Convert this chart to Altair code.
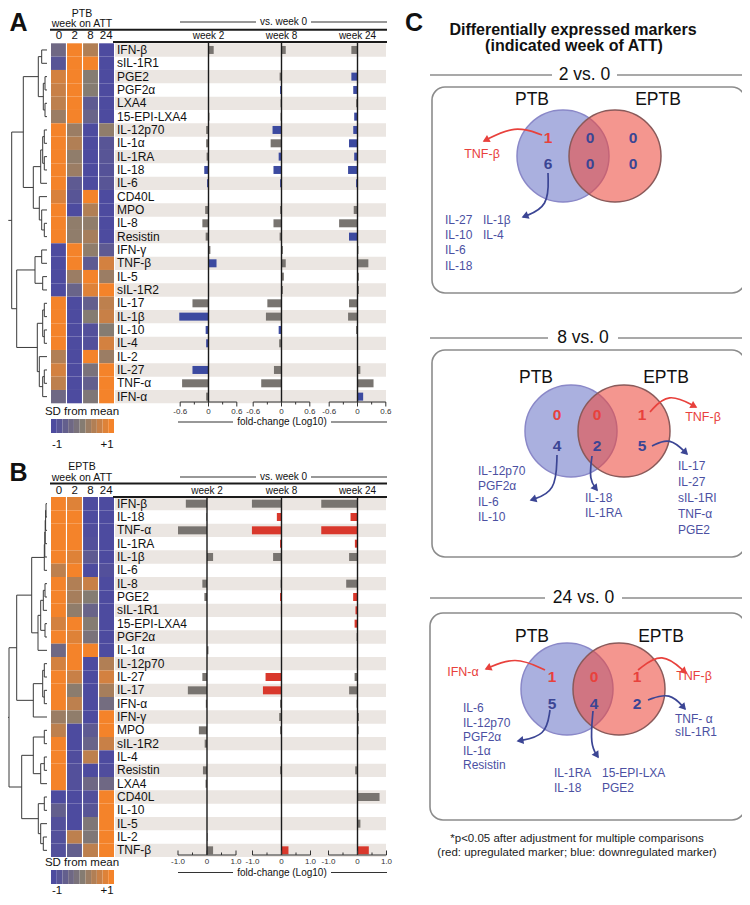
import math
import altair as alt
import pandas as pd

FONT = "Liberation Sans"
INK = "#111111"
M = 8
W, H = 734, 889
ROW = 360 / 27

# ---------------- data ----------------
weeks_heat = ["0", "2", "8", "24"]
weeks_cmp = ["2", "8", "24"]

markers_A = ["IFN-β", "sIL-1R1", "PGE2", "PGF2α", "LXA4", "15-EPI-LXA4", "IL-12p70", "IL-1α",
             "IL-1RA", "IL-18", "IL-6", "CD40L", "MPO", "IL-8", "Resistin", "IFN-γ", "TNF-β",
             "IL-5", "sIL-1R2", "IL-17", "IL-1β", "IL-10", "IL-4", "IL-2", "IL-27", "TNF-α", "IFN-α"]
heat_A_w0 = [-0.4, -0.8, 0.7, 0.6, 0.5, 0.2, 1, 1, 1, 1, 1, 0.75, 1, 1, 1, -1, -1, -1, -1, 1, 1, 1, 1, 0.4, 0.7, 0.5, -0.4]
heat_A_w2 = [1, 1, 1, 1, 1, 1, 0.2, 0.4, 0.1, 0.2, -0.7, -0.8, -1, 0.1, 0.1, 1, 1, 0.2, -0.5, -1, -1, -1, -1, -1, -1, -1, -1]
heat_A_w8 = [0.4, 1, 0, 0, -0.7, -0.5, -1, -1, -1, -1, -1, 1, 0.4, 0.1, 0.3, 0.1, -0.7, 1, 0.8, -0.6, 0, -0.9, -0.9, 1, -0.2, -0.6, -0.1]
heat_A_w24 = [-1, -1, -1, -1, -1, -1, 0.1, -0.8, -0.8, -0.85, -0.8, -1, -1, -1, -1, -0.7, 0.7, 0.2, 1, 0.5, 0.6, 0, 0.7, 0.2, 1, 1, 1]

fc_A_w2 = [0.11, 0, 0, 0, 0, 0.02, -0.05, -0.05, -0.04, -0.09, -0.03, 0, -0.07, -0.13, -0.06, 0.04, 0.17,
           0.01, 0, -0.34, -0.62, -0.06, -0.05, 0.005, -0.34, -0.56, -0.05]
fc_A_w8 = [0.09, 0.01, -0.04, -0.03, -0.02, -0.02, -0.19, -0.23, -0.06, -0.17, -0.03, 0, -0.03, -0.17, -0.04,
           0.03, 0.09, 0.05, 0.03, -0.30, -0.33, -0.06, -0.05, 0, -0.16, -0.43, 0]
fc_A_w24 = [-0.13, 0, -0.13, -0.09, -0.03, -0.07, -0.09, -0.18, -0.07, -0.20, -0.03, 0, -0.08, -0.39, -0.18,
            0.02, 0.23, 0.03, 0.03, -0.18, -0.20, -0.03, 0, 0, 0.06, 0.34, 0.12]
sig_A_w2 = ["TNF-β", "IL-27", "IL-10", "IL-6", "IL-18", "IL-1β", "IL-4"]
sig_A_w8 = ["IL-12p70", "PGF2α", "IL-6", "IL-10", "IL-18", "IL-1RA"]
sig_A_w24 = ["IFN-α", "IL-6", "IL-12p70", "PGF2α", "IL-1α", "Resistin", "IL-1RA", "IL-18", "15-EPI-LXA4", "PGE2"]

markers_B = ["IFN-β", "IL-18", "TNF-α", "IL-1RA", "IL-1β", "IL-6", "IL-8", "PGE2", "sIL-1R1", "15-EPI-LXA4",
             "PGF2α", "IL-1α", "IL-12p70", "IL-27", "IL-17", "IFN-α", "IFN-γ", "MPO", "sIL-1R2", "IL-4",
             "Resistin", "LXA4", "CD40L", "IL-10", "IL-5", "IL-2", "TNF-β"]
heat_B_w0 = [1, 1, 1, 1, 1, 0.5, 1, 1, 1, 0.7, 1, -0.4, 0.7, 1, 1, 1, 0.2, 0.5, 1, 1, 1, 1, -1, -0.6, -0.9, -0.9, -0.9]
heat_B_w2 = [0.8, 1, 1, 1, 0.8, 1, 0.4, 0.3, 0.1, 1, 0.8, 1, 1, 0.6, 0.05, 0.5, 0.1, -1, -1, -0.95, -0.9, -0.9, -1, -1, -1, 0.5, -0.6]
heat_B_w8 = [-1, -1, -0.95, -0.9, -0.7, -1, 0.6, 0, -0.5, 0, -0.2, 1, -1, -1, -1, -1, -1, -0.7, -0.5, 0.5, -1, -0.4, -0.9, -0.8, -0.1, -0.1, 0.5]
heat_B_w24 = [-1, -1, -1, -1, -1, -0.9, -1, -1, -1, -1, -1, -1, 0.4, 0.7, 0.3, -0.3, 1, 1, 0.6, -1, -0.95, -0.4, 1, 1, 1, 1, 1]

fc_B_w2 = [-0.73, -0.02, -1.0, 0, 0.21, 0, -0.16, -0.09, 0, 0, 0, 0.05, 0, -0.16, -0.66, -0.04, 0, -0.28,
           -0.08, 0, -0.14, -0.05, 0, 0, 0, 0.02, 0.21]
fc_B_w8 = [-1.02, -0.16, -1.02, -0.05, -0.29, 0, -0.03, -0.05, -0.02, 0, 0, 0, 0, -0.55, -0.64, -0.05, -0.08,
           -0.05, 0, 0, -0.05, 0, 0, 0, 0, 0, 0.24]
fc_B_w24 = [-1.25, -0.24, -1.25, -0.09, -0.29, 0, -0.39, -0.15, -0.07, -0.10, -0.03, 0, -0.02, -0.10, -0.29,
            -0.03, 0.05, 0.04, 0, 0, -0.08, 0, 0.76, 0, 0.10, 0, 0.39]
sig_B_w2 = []
sig_B_w8 = ["TNF-β", "IL-18", "IL-1RA", "IL-17", "IL-27", "sIL-1R1", "TNF-α", "PGE2"]
sig_B_w24 = ["TNF-β", "TNF-α", "sIL-1R1", "IL-1RA", "IL-18", "15-EPI-LXA4", "PGE2"]

# dendrograms: (merge height, left, right)
tree_A = (35.3,
          (23.7,
           (8.7, (5.3, "IFN-β", "sIL-1R1"), (3.7, (2, "PGE2", "PGF2α"), (2, "LXA4", "15-EPI-LXA4"))),
           (13.7, (6.3, (4.3, (2.7, "IL-12p70", "IL-1α"), (2.7, "IL-1RA", "IL-18")), "IL-6"),
            (7.7, "CD40L", (5.3, "MPO", (2.7, "IL-8", "Resistin"))))),
          (30.3,
           (12, (5.3, "IFN-γ", "TNF-β"), (4.3, "IL-5", "sIL-1R2")),
           (9.7, (4.3, (2.7, "IL-17", "IL-1β"), (2.7, "IL-10", "IL-4")),
            (7.7, "IL-2", (4.3, (2.7, "IL-27", "TNF-α"), "IFN-α")))))
stub_A = 38.7
tree_B = (38,
          (30.3,
           (15.3,
            (2.7, (2.2, (1.8, (1.4, (1, "IFN-β", "IL-18"), "TNF-α"), "IL-1RA"), "IL-1β"), "IL-6"),
            (9, (6.3, (3.7, (2, "IL-8", "PGE2"), "sIL-1R1"), (2, "15-EPI-LXA4", "PGF2α")), "IL-1α")),
           (13.7, (4.3, (2.7, "IL-12p70", "IL-27"), (2.7, "IL-17", "IFN-α")), "IFN-γ")),
          (25.3,
           (13.7, (2.7, "MPO", "sIL-1R2"), (6.3, (2.7, "IL-4", "Resistin"), "LXA4")),
           (8.7, (2.7, "CD40L", "IL-10"), (6.3, "IL-5", (3.7, "IL-2", "TNF-β")))))
stub_B = 39

legend_steps = [-1, -0.8, -0.6, -0.4, -0.2, 0, 0.2, 0.4, 0.6, 0.8, 1]
ticks_A = [-0.6, -0.3, 0, 0.3, 0.6]
ticks_B = [-1.0, -0.5, 0, 0.5, 1.0]
ticklab_A = ["-0.6", "0", "0.6"]
ticklab_B = ["-1.0", "0", "1.0"]

# Venn counts: [PTB only, both, EPTB only]
venn_titles = ["2 vs. 0", "8 vs. 0", "24 vs. 0"]
venn_up = [[1, 0, 0], [0, 0, 1], [1, 0, 1]]
venn_down = [[6, 0, 0], [4, 2, 5], [5, 4, 2]]

# ---------------- styles ----------------
HEAT = alt.Scale(domain=[-1, 0, 1], range=["#4d4b9f", "#857c72", "#f4832a"], interpolate="rgb")
BAND = "#ebe6e2"
GREY_BAR = "#787470"
BLUE_SIG = "#3c4aa0"
RED_SIG = "#d9382c"
RED_T = "#e8413c"
BLUE_T = "#4b50a2"
BLUE_N = "#3b4594"
PXS = alt.Scale(domain=[M, M + W], range=[0, W])
PYS = alt.Scale(domain=[M, M + H], range=[0, H])

L = []


def T(rows, size, color=INK, weight="normal", align="center", baseline="middle"):
    df = pd.DataFrame(rows, columns=["x", "y", "t"])
    return alt.Chart(df).mark_text(font=FONT, fontSize=size, color=color, fontWeight=weight,
                                   align=align, baseline=baseline).encode(
        x=alt.X("x:Q", scale=PXS, axis=None), y=alt.Y("y:Q", scale=PYS, axis=None), text="t:N")


def R(rows, color="#222222", width=1.0):
    df = pd.DataFrame(rows, columns=["x", "x2", "y", "y2"])
    return alt.Chart(df).mark_rule(color=color, strokeWidth=width).encode(
        x=alt.X("x:Q", scale=PXS, axis=None), x2="x2:Q",
        y=alt.Y("y:Q", scale=PYS, axis=None), y2="y2:Q")


def dendro(tree, markers):
    segs = []

    def walk(node):
        if isinstance(node, str):
            return float(markers.index(node)), 0.0
        h, a, b = node
        ya, ha = walk(a)
        yb, hb = walk(b)
        segs.append((ha, h, ya, ya))
        segs.append((hb, h, yb, yb))
        segs.append((h, h, ya, yb))
        return (ya + yb) / 2, h

    y, h = walk(tree)
    return segs, y, h


def panel(markers, heat, bars, sig, tree, stub, g, group_label, sig_color, lim, ticks, ticklabs, letter):
    n = len(markers)
    top = g["top"]
    bottom = top + n * ROW
    ys = alt.Scale(domain=markers, range=[top - M, bottom - M], paddingInner=0, paddingOuter=0)

    # alternating row bands
    L.append(alt.Chart(pd.DataFrame({"m": markers[::2]})).mark_rect(color=BAND).encode(
        y=alt.Y("m:N", scale=ys, axis=None), x=alt.value(115 - M), x2=alt.value(386 - M)))

    # heatmap
    rows = [{"m": m, "w": w, "v": v} for w in weeks_heat for m, v in zip(markers, heat[w])]
    xs_h = alt.Scale(domain=weeks_heat, range=[51 - M, 114 - M], paddingInner=0.07, paddingOuter=0)
    L.append(alt.Chart(pd.DataFrame(rows)).mark_rect().encode(
        x=alt.X("w:N", scale=xs_h, axis=None), y=alt.Y("m:N", scale=ys, axis=None),
        color=alt.Color("v:Q", scale=HEAT, legend=None)))
    L.append(alt.Chart(pd.DataFrame({"w": weeks_heat})).mark_text(
        font=FONT, fontSize=11.5, color=INK, baseline="middle").encode(
        x=alt.X("w:N", scale=xs_h, axis=None), y=alt.value(g["colhead_y"] - M), text="w:N"))

    # row labels
    L.append(alt.Chart(pd.DataFrame({"m": markers})).mark_text(
        font=FONT, fontSize=12, color=INK, align="left", baseline="middle").encode(
        y=alt.Y("m:N", scale=ys, axis=None), x=alt.value(117 - M), text="m:N"))

    # bar panels
    for k, w in enumerate(weeks_cmp):
        z = g["zeros"][k]
        hw = g["hw"]
        xs = alt.Scale(domain=[-lim, lim], range=[z - hw - M, z + hw - M])
        df = pd.DataFrame({"m": markers, "v": bars[w],
                           "s": ["sig" if m in sig[w] else "ns" for m in markers]})
        L.append(alt.Chart(df).mark_bar(size=8).encode(
            x=alt.X("v:Q", scale=xs, axis=None), y=alt.Y("m:N", scale=ys, axis=None),
            color=alt.Color("s:N", scale=alt.Scale(domain=["ns", "sig"], range=[GREY_BAR, sig_color]),
                            legend=None)))
        L.append(alt.Chart(pd.DataFrame({"v": [0]})).mark_rule(color="#1a1a1a", strokeWidth=1.4).encode(
            x=alt.X("v:Q", scale=xs, axis=None),
            y=alt.value(g["line2_y"] - M), y2=alt.value(g["axis_y"] - M)))
        L.append(alt.Chart(pd.DataFrame({"a": [-lim], "b": [lim]})).mark_rule(color="#333333", strokeWidth=1.2).encode(
            x=alt.X("a:Q", scale=xs, axis=None), x2="b:Q", y=alt.value(g["axis_y"] - M)))
        tk = pd.DataFrame({"v": ticks})
        major = tk[tk["v"].isin([ticks[0], 0, ticks[-1]])]
        minor = tk[~tk["v"].isin([ticks[0], 0, ticks[-1]])]
        for part, ln in ((major, 4.5), (minor, 2.5)):
            L.append(alt.Chart(part).mark_rule(color="#333333", strokeWidth=1).encode(
                x=alt.X("v:Q", scale=xs, axis=None),
                y=alt.value(g["axis_y"] - M), y2=alt.value(g["axis_y"] - M + g["tick_dir"] * ln)))
        lab = pd.DataFrame({"v": [ticks[0], 0, ticks[-1]], "t": ticklabs})
        L.append(alt.Chart(lab).mark_text(font=FONT, fontSize=8, color="#333333", baseline="middle").encode(
            x=alt.X("v:Q", scale=xs, axis=None), y=alt.value(g["ticklab_y"] - M), text="t:N"))

    # dendrogram
    segs, ry, rh = dendro(tree, markers)
    segs.append((rh, stub, ry, ry))
    dd = pd.DataFrame(segs, columns=["h1", "h2", "r1", "r2"])
    xs_d = alt.Scale(domain=[0, 40], range=[47 - M, 7 - M])
    ys_d = alt.Scale(domain=[-0.5, n - 0.5], range=[top - M, bottom - M])
    L.append(alt.Chart(dd).mark_rule(color="#3a3a3a", strokeWidth=1).encode(
        x=alt.X("h1:Q", scale=xs_d, axis=None), x2="h2:Q",
        y=alt.Y("r1:Q", scale=ys_d, axis=None), y2="r2:Q"))

    # colour legend
    xs_c = alt.Scale(domain=legend_steps, range=[51 - M, 114 - M], paddingInner=0, paddingOuter=0)
    L.append(alt.Chart(pd.DataFrame({"s": legend_steps})).mark_rect().encode(
        x=alt.X("s:O", scale=xs_c, axis=None),
        y=alt.value(g["cb_y0"] - M), y2=alt.value(g["cb_y1"] - M),
        color=alt.Color("s:Q", scale=HEAT, legend=None)))

    # header texts and lines
    L.append(T([(82, g["grp_y"], group_label), (82, g["week_on_y"], "week on ATT")], 10.5))
    L.append(T([(82, g["sd_y"], "SD from mean"), (57, g["pm_y"], "-1"), (107, g["pm_y"], "+1")], 11.5))
    L.append(T([(283.5, g["vs_y"], "vs. week 0")] +
               [(g["zeros"][k], g["wk_y"], "week " + w) for k, w in enumerate(weeks_cmp)] +
               [(282, g["fc_y"], "fold-change (Log10)")], 10))
    L.append(T([(18.5, g["letter_y"], letter)], 25, weight="bold"))
    L.append(R([(50, 387, g["line1_y"], g["line1_y"]), (113, 387, g["line2_y"], g["line2_y"])], "#1a1a1a", 2))
    L.append(R([(180, 256, g["vs_y"], g["vs_y"]), (311, 387, g["vs_y"], g["vs_y"]),
                (178, 233, g["fc_y"], g["fc_y"]), (331, 387, g["fc_y"], g["fc_y"])], "#333333", 1.2))


geomA = dict(top=43.3, letter_y=23, grp_y=13.5, week_on_y=24, line1_y=29.8, vs_y=22, wk_y=36, line2_y=42,
             colhead_y=36, axis_y=402, tick_dir=1, ticklab_y=411.5, fc_y=422, sd_y=412, cb_y0=419, cb_y1=433,
             pm_y=445, zeros=[208.5, 281.5, 357.5], hw=28.3)
geomB = dict(top=497, letter_y=473, grp_y=467, week_on_y=477.5, line1_y=483.5, vs_y=477, wk_y=491, line2_y=497,
             colhead_y=490.5, axis_y=855, tick_dir=-1, ticklab_y=862, fc_y=872.5, sd_y=863, cb_y0=870, cb_y1=884,
             pm_y=891, zeros=[207, 281.5, 357.5], hw=29)

panel(markers_A, {"0": heat_A_w0, "2": heat_A_w2, "8": heat_A_w8, "24": heat_A_w24},
      {"2": fc_A_w2, "8": fc_A_w8, "24": fc_A_w24}, {"2": sig_A_w2, "8": sig_A_w8, "24": sig_A_w24},
      tree_A, stub_A, geomA, "PTB", BLUE_SIG, 0.6, ticks_A, ticklab_A, "A")
panel(markers_B, {"0": heat_B_w0, "2": heat_B_w2, "8": heat_B_w8, "24": heat_B_w24},
      {"2": fc_B_w2, "8": fc_B_w8, "24": fc_B_w24}, {"2": sig_B_w2, "8": sig_B_w8, "24": sig_B_w24},
      tree_B, stub_B, geomB, "EPTB", RED_SIG, 1.0, ticks_B, ticklab_B, "B")

# ---------------- panel C ----------------
L.append(T([(414, 23, "C")], 25, weight="bold"))
L.append(T([(573, 30, "Differentially expressed markers"), (574, 46, "(indicated week of ATT)")],
           16, weight="bold"))

boxes = [
    dict(head_y=75, lines=[(430, 552), (617, 745)], rect=(432, 87, 745, 293), ptb=(563, 156), eptb=(615, 156),
         lab_y=100, lab_x=(532, 658), up_y=138, dn_y=164, cols_x=[548, 590, 633],
         up_col=[RED_T, BLUE_N, BLUE_N]),
    dict(head_y=338, lines=[(430, 548), (618, 745)], rect=(432, 350, 745, 557), ptb=(571, 431), eptb=(624, 431),
         lab_y=378, lab_x=(536, 666), up_y=415, dn_y=446, cols_x=[557, 597, 642],
         up_col=[RED_T, RED_T, RED_T]),
    dict(head_y=598, lines=[(430, 545), (622, 745)], rect=(430, 613, 745, 820), ptb=(567, 689), eptb=(619, 689),
         lab_y=637, lab_x=(532, 661), up_y=677, dn_y=704, cols_x=[552, 594, 637],
         up_col=[RED_T, RED_T, RED_T]),
]

for b, title, up, dn in zip(boxes, venn_titles, venn_up, venn_down):
    L.append(T([((b["lines"][0][1] + b["lines"][1][0]) / 2, b["head_y"], title)], 17.5))
    L.append(R([(b["lines"][0][0], b["lines"][0][1], b["head_y"], b["head_y"]),
                (b["lines"][1][0], b["lines"][1][1], b["head_y"], b["head_y"])], "#555555", 1.2))
    x0, y0, x1, y1 = b["rect"]
    L.append(alt.Chart(pd.DataFrame({"x": [x0], "x2": [x1], "y": [y0], "y2": [y1]})).mark_rect(
        fillOpacity=0, stroke="#8c8c8c", strokeWidth=1.6, cornerRadius=13).encode(
        x=alt.X("x:Q", scale=PXS, axis=None), x2="x2:Q", y=alt.Y("y:Q", scale=PYS, axis=None), y2="y2:Q"))
    L.append(T([(b["lab_x"][0], b["lab_y"], "PTB"), (b["lab_x"][1], b["lab_y"], "EPTB")], 17.5))
    L.append(alt.Chart(pd.DataFrame({"x": [b["ptb"][0]], "y": [b["ptb"][1]]})).mark_circle(
        size=92 * 92, color="#6470c4", fillOpacity=0.55, stroke="#8a88c8", strokeWidth=1.5, strokeOpacity=1).encode(
        x=alt.X("x:Q", scale=PXS, axis=None), y=alt.Y("y:Q", scale=PYS, axis=None)))
    L.append(alt.Chart(pd.DataFrame({"x": [b["eptb"][0]], "y": [b["eptb"][1]]})).mark_circle(
        size=92 * 92, color="#ec4a3e", fillOpacity=0.58, stroke="#8a5a5a", strokeWidth=1.5, strokeOpacity=1).encode(
        x=alt.X("x:Q", scale=PXS, axis=None), y=alt.Y("y:Q", scale=PYS, axis=None)))
    for cx, v, c in zip(b["cols_x"], up, b["up_col"]):
        L.append(T([(cx, b["up_y"], str(v))], 15.5, color=c, weight="bold"))
    L.append(T([(cx, b["dn_y"], str(v)) for cx, v in zip(b["cols_x"], dn)], 15.5, color=BLUE_N, weight="bold"))

# marker lists
L.append(T([(482, 154, "TNF-β"), (703, 417, "TNF-β"), (463, 672, "IFN-α"), (694, 676, "TNF-β")], 12.5, color=RED_T))
list_rows = [
    (445, 220, "IL-27"), (445, 235, "IL-10"), (445, 250, "IL-6"), (445, 266, "IL-18"),
    (483, 220, "IL-1β"), (483, 235, "IL-4"),
    (478, 471, "IL-12p70"), (478, 486, "PGF2α"), (478, 502, "IL-6"), (478, 517, "IL-10"),
    (585, 498, "IL-18"), (585, 513, "IL-1RA"),
    (678, 466, "IL-17"), (678, 482, "IL-27"), (678, 498, "sIL-1RI"), (678, 514, "TNF-α"), (678, 530, "PGE2"),
    (463, 708, "IL-6"), (463, 723, "IL-12p70"), (463, 737, "PGF2α"), (463, 751, "IL-1α"), (463, 765, "Resistin"),
    (554, 773, "IL-1RA"), (554, 788, "IL-18"), (602, 773, "15-EPI-LXA"), (602, 788, "PGE2"),
    (675, 719, "TNF- α"), (675, 732, "sIL-1R1"),
]
L.append(T(list_rows, 12, color=BLUE_T, align="left"))

# curved arrows (start, bend, end)
arrows = [
    ((542, 135), (515, 125), (484, 141), RED_T),
    ((548, 173), (549, 207), (523, 217), BLUE_N),
    ((650, 412), (668, 392), (696, 407), RED_T),
    ((557, 455), (556, 492), (531, 500), BLUE_N),
    ((592, 456), (589, 480), (597, 490), BLUE_N),
    ((652, 446), (670, 437), (687, 454), BLUE_N),
    ((545, 670), (515, 656), (486, 669), RED_T),
    ((638, 670), (662, 651), (686, 673), RED_T),
    ((550, 710), (546, 736), (518, 741), BLUE_N),
    ((593, 711), (590, 745), (598, 757), BLUE_N),
    ((648, 700), (670, 692), (685, 709), BLUE_N),
]
line_rows, head_rows = [], []
for i, (p0, p1, p2, c) in enumerate(arrows):
    for j, p in enumerate((p0, p1, p2)):
        line_rows.append({"id": i, "o": j, "x": p[0], "y": p[1], "col": c})
    dx, dy = p2[0] - p1[0], p2[1] - p1[1]
    d = math.hypot(dx, dy)
    head_rows.append({"x": p2[0] - 2 * dx / d, "y": p2[1] - 2 * dy / d,
                      "ang": math.degrees(math.atan2(dx, -dy)) % 360, "col": c})
L.append(alt.Chart(pd.DataFrame(line_rows)).mark_line(interpolate="basis", strokeWidth=1.7).encode(
    x=alt.X("x:Q", scale=PXS, axis=None), y=alt.Y("y:Q", scale=PYS, axis=None),
    detail="id:N", order="o:Q", color=alt.Color("col:N", scale=None)))
L.append(alt.Chart(pd.DataFrame(head_rows)).mark_point(shape="triangle-up", filled=True, size=64, opacity=1).encode(
    x=alt.X("x:Q", scale=PXS, axis=None), y=alt.Y("y:Q", scale=PYS, axis=None),
    angle=alt.Angle("ang:Q", scale=None), color=alt.Color("col:N", scale=None)))

L.append(T([(577, 839, "*p<0.05 after adjustment for multiple comparisons"),
            (577, 853, "(red: upregulated marker; blue: downregulated marker)")], 11.5, color="#222222"))

chart = alt.layer(*L).resolve_scale(
    x="independent", y="independent", color="independent"
).properties(
    width=W, height=H, padding=0, autosize=alt.AutoSizeParams(type="none")
).configure_view(stroke=None)

chart.save("out.html", embed_options={"renderer": "svg", "actions": False})
